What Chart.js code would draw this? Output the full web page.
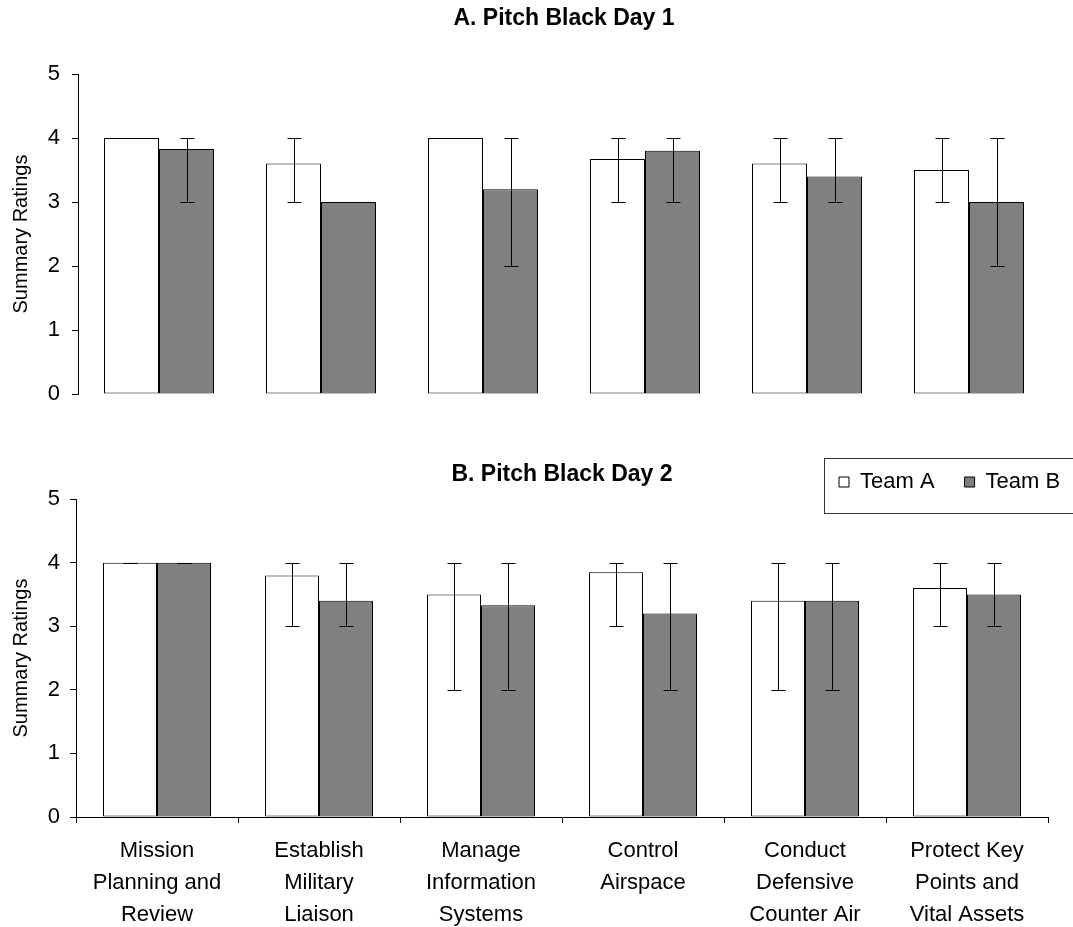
<!DOCTYPE html>
<html>
<head>
<meta charset="utf-8">
<title>Pitch Black Summary Ratings</title>
<script src="https://cdn.jsdelivr.net/npm/chart.js@4.4.1/dist/chart.umd.min.js"></script>
<style>
  html, body { margin: 0; padding: 0; background: #fff; overflow: hidden; }
  #wrap { position: relative; width: 1073px; height: 927px; }
  canvas { position: absolute; left: 0; }
  #dayOne { top: 0; }
  #dayTwo { top: 440px; }
</style>
</head>
<body>
<div id="wrap">
  <canvas id="dayOne" width="1073" height="420"></canvas>
  <canvas id="dayTwo" width="1073" height="487"></canvas>
</div>
<script>
// Mission task categories (multi-line axis labels)
const categories = [
  ['Mission', 'Planning and', 'Review'],
  ['Establish', 'Military', 'Liaison'],
  ['Manage', 'Information', 'Systems'],
  ['Control', 'Airspace'],
  ['Conduct', 'Defensive', 'Counter Air'],
  ['Protect Key', 'Points and', 'Vital Assets']
];
const seriesNames = ['Team A', 'Team B'];
const yTicks = [0, 1, 2, 3, 4, 5];

// Day 1 mean ratings and min/max ranges
const dayOneTeamA     = [4.0, 3.6, 4.0, 3.67, 3.6, 3.5];
const dayOneTeamB     = [3.83, 3.0, 3.2, 3.8, 3.4, 3.0];
const dayOneTeamALow  = [4, 3, 4, 3, 3, 3];
const dayOneTeamAHigh = [4, 4, 4, 4, 4, 4];
const dayOneTeamBLow  = [3, 3, 2, 3, 3, 2];
const dayOneTeamBHigh = [4, 3, 4, 4, 4, 4];

// Day 2 mean ratings and min/max ranges
const dayTwoTeamA     = [4.0, 3.8, 3.5, 3.85, 3.4, 3.6];
const dayTwoTeamB     = [4.0, 3.4, 3.33, 3.2, 3.4, 3.5];
const dayTwoTeamALow  = [4, 3, 2, 3, 2, 3];
const dayTwoTeamAHigh = [4, 4, 4, 4, 4, 4];
const dayTwoTeamBLow  = [4, 3, 2, 2, 2, 3];
const dayTwoTeamBHigh = [4, 4, 4, 4, 4, 4];

const FONT = 'Arial, "Liberation Sans", sans-serif';
Chart.defaults.font.family = FONT;
Chart.defaults.color = '#000';

// Whisker lines from each dataset's errorLow/errorHigh arrays
const errorBars = {
  id: 'errorBars',
  afterDatasetsDraw(chart, args, opts) {
    const ctx = chart.ctx;
    const yScale = chart.scales.y;
    ctx.save();
    ctx.strokeStyle = opts.color;
    ctx.lineWidth = 1;
    chart.data.datasets.forEach((ds, di) => {
      if (!ds.errorLow) return;
      const meta = chart.getDatasetMeta(di);
      meta.data.forEach((bar, i) => {
        const x = Math.round(bar.x) + 0.5;
        const yLo = Math.round(yScale.getPixelForValue(ds.errorLow[i])) + 0.5;
        const yHi = Math.round(yScale.getPixelForValue(ds.errorHigh[i])) + 0.5;
        const w = opts.capHalfWidth;
        ctx.beginPath();
        ctx.moveTo(x, yLo); ctx.lineTo(x, yHi);
        ctx.moveTo(x - w, yLo); ctx.lineTo(x + w, yLo);
        ctx.moveTo(x - w, yHi); ctx.lineTo(x + w, yHi);
        ctx.stroke();
      });
    });
    ctx.restore();
  }
};

// Places the legend inside a framed box in the upper right
const legendFrame = {
  id: 'legendFrame',
  afterLayout(chart, args, opts) {
    const lg = chart.legend;
    if (!lg) return;
    const pad = lg.options.labels.padding;
    lg.left = opts.left + opts.insetX - pad;
    lg.top = opts.top + opts.insetY - pad;
    lg.width = opts.width + 2 * pad;
    lg.height = opts.height + 2 * pad;
    lg.right = lg.left + lg.width;
    lg.bottom = lg.top + lg.height;
  },
  afterDraw(chart, args, opts) {
    const ctx = chart.ctx;
    ctx.save();
    ctx.strokeStyle = opts.color;
    ctx.lineWidth = 1;
    ctx.strokeRect(opts.left + 0.5, opts.top + 0.5, opts.width, opts.height);
    ctx.restore();
  }
};

function makeDatasets(aVals, aLow, aHigh, bVals, bLow, bHigh, catPct) {
  const common = {
    borderColor: '#000000', borderWidth: 1, borderSkipped: false,
    inflateAmount: 0, categoryPercentage: catPct, barPercentage: 1.0
  };
  return [
    Object.assign({ label: seriesNames[0], data: aVals, errorLow: aLow, errorHigh: aHigh,
                    backgroundColor: '#ffffff' }, common),
    Object.assign({ label: seriesNames[1], data: bVals, errorLow: bLow, errorHigh: bHigh,
                    backgroundColor: '#808080' }, common)
  ];
}

function yAxis(width, labelPad) {
  return {
    min: yTicks[0],
    max: yTicks[yTicks.length - 1],
    afterBuildTicks(scale) { scale.ticks = yTicks.map(v => ({ value: v })); },
    ticks: { padding: labelPad, font: { size: 22 }, color: '#000' },
    grid: { drawOnChartArea: false, drawTicks: true, tickLength: 6, color: '#000' },
    border: { display: true, color: '#000', width: 1 },
    title: {
      display: true, text: 'Summary Ratings', color: '#000',
      font: { size: 20 }, padding: { top: 9, bottom: 0 }
    },
    afterFit(scale) { scale.width = width; }
  };
}

// Panel A: Day 1
new Chart(document.getElementById('dayOne'), {
  type: 'bar',
  data: {
    labels: categories,
    datasets: makeDatasets(dayOneTeamA, dayOneTeamALow, dayOneTeamAHigh,
                           dayOneTeamB, dayOneTeamBLow, dayOneTeamBHigh, 110 / 162)
  },
  options: {
    responsive: false,
    animation: false,
    devicePixelRatio: 1,
    events: [],
    layout: { padding: { left: 0, right: 23, top: 0, bottom: 26 } },
    scales: {
      x: { display: false },
      y: yAxis(78, 12)
    },
    plugins: {
      legend: { display: false },
      tooltip: { enabled: false },
      title: {
        display: true, text: 'A. Pitch Black Day 1', color: '#000', fullSize: false,
        font: { size: 23, weight: 'bold' }, padding: { top: 4.4, bottom: 42 }
      },
      errorBars: { color: '#000', capHalfWidth: 7 }
    }
  },
  plugins: [errorBars]
});

// Panel B: Day 2
new Chart(document.getElementById('dayTwo'), {
  type: 'bar',
  data: {
    labels: categories,
    datasets: makeDatasets(dayTwoTeamA, dayTwoTeamALow, dayTwoTeamAHigh,
                           dayTwoTeamB, dayTwoTeamBLow, dayTwoTeamBHigh, 108 / 162)
  },
  options: {
    responsive: false,
    animation: false,
    devicePixelRatio: 1,
    events: [],
    layout: { padding: { left: 0, right: 25, top: 0, bottom: 0 } },
    scales: {
      x: {
        ticks: {
          padding: 12, color: '#000', maxRotation: 0, autoSkip: false,
          font: { size: 22, lineHeight: 1.45 }
        },
        grid: { drawOnChartArea: false, drawTicks: true, tickLength: 6, color: '#000', offset: true },
        border: { display: true, color: '#000', width: 1 },
        afterFit(scale) { scale.height = 110; }
      },
      y: yAxis(76, 10)
    },
    plugins: {
      tooltip: { enabled: false },
      title: {
        display: true, text: 'B. Pitch Black Day 2', color: '#000', fullSize: false,
        font: { size: 23, weight: 'bold' }, padding: { top: 21, bottom: 9.5 }
      },
      legend: {
        display: true, position: 'top', align: 'start', maxHeight: 1,
        labels: {
          boxWidth: 10, boxHeight: 10, padding: 30, color: '#000',
          font: { size: 22 }
        }
      },
      legendFrame: { left: 824, top: 18, width: 260, height: 55, insetX: 15, insetY: 13, color: '#333' },
      errorBars: { color: '#000', capHalfWidth: 7 }
    }
  },
  plugins: [errorBars, legendFrame]
});
</script>
</body>
</html>
